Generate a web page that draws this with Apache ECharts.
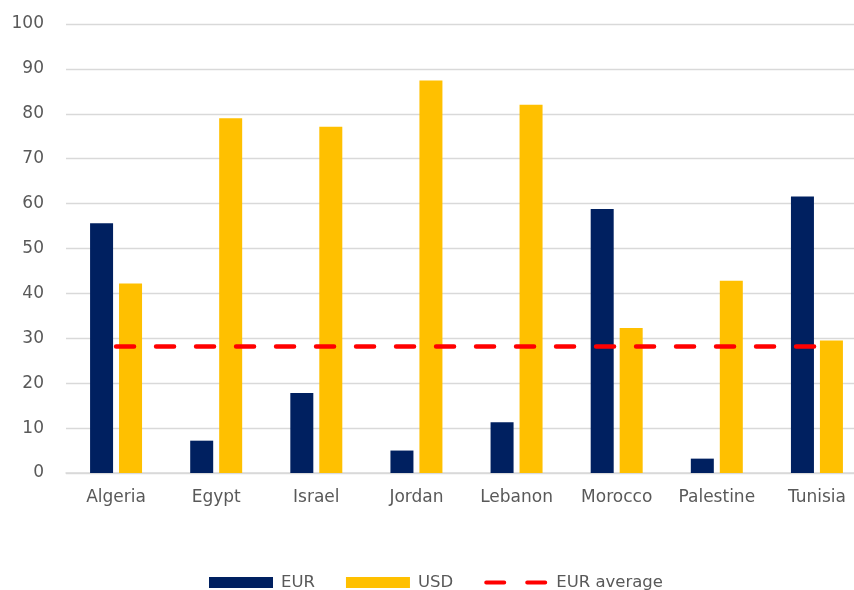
<!DOCTYPE html>
<html>
<head>
<meta charset="utf-8">
<script src="https://cdn.jsdelivr.net/npm/echarts@6/dist/echarts.min.js"></script>
<style>
html,body{margin:0;padding:0;background:#fff;overflow:hidden;}
#c{width:867px;height:590px;}
</style>
</head>
<body>
<div id="c"></div>
<script>
const categories = ['Algeria','Egypt','Israel','Jordan','Lebanon','Morocco','Palestine','Tunisia'];
const eurValues = [55.6, 7.2, 17.8, 5.0, 11.3, 58.8, 3.2, 61.6];
const usdValues = [42.2, 79.0, 77.1, 87.4, 82.0, 32.3, 42.8, 29.5];
const eurAverage = [28.2, 28.2, 28.2, 28.2, 28.2, 28.2, 28.2, 28.2];
const yTicks = [0, 10, 20, 30, 40, 50, 60, 70, 80, 90, 100];

const chart = echarts.init(document.getElementById('c'), null, {renderer:'canvas'});
const fontFam = '"DejaVu Sans", sans-serif';
const dashIcon = 'path://M0,0 L0.01,0 Z M0,11 L0.01,11 Z ' +
  'M2,3.5 L20,3.5 A2,2 0 0 1 20,7.5 L2,7.5 A2,2 0 0 1 2,3.5 Z ' +
  'M43,3.5 L61,3.5 A2,2 0 0 1 61,7.5 L43,7.5 A2,2 0 0 1 43,3.5 Z M64,0 L64.01,0 Z';
chart.setOption({
  animation: false,
  backgroundColor: '#fff',
  textStyle: {fontFamily: fontFam},
  grid: {left: 66, top: 24, right: 0, bottom: 117, containLabel: false},
  legend: {
    left: 209, top: 574, padding: 0,
    itemWidth: 64, itemHeight: 11, itemGap: 31,
    textStyle: {fontFamily: fontFam, fontSize: 16.5, color: '#595959', padding: [0,0,0,3]},
    data: [
      {name: 'EUR', icon: 'rect'},
      {name: 'USD', icon: 'rect'},
      {name: 'EUR average', icon: dashIcon}
    ]
  },
  xAxis: {
    type: 'category',
    data: categories,
    axisLine: {show: true, lineStyle: {color: '#d9d9d9', width: 1.5}},
    axisTick: {show: false},
    axisLabel: {fontFamily: fontFam, fontSize: 17, color: '#595959', margin: 16}
  },
  yAxis: {
    type: 'value',
    min: yTicks[0], max: yTicks[yTicks.length-1], interval: 10,
    axisLine: {show: false},
    axisTick: {show: false},
    splitLine: {lineStyle: {color: '#d9d9d9', width: 1.3}},
    axisLabel: {fontFamily: fontFam, fontSize: 17, color: '#595959', margin: 22}
  },
  series: [
    {name: 'EUR', type: 'bar', data: eurValues, itemStyle: {color: '#002060'}, barWidth: 23, barGap: '26%'},
    {name: 'USD', type: 'bar', data: usdValues, itemStyle: {color: '#FFC000'}, barWidth: 23},
    {name: 'EUR average', type: 'line', data: eurAverage, symbol: 'none', showSymbol: false,
     itemStyle: {color: '#FF0000'},
     lineStyle: {color: '#FF0000', width: 4.5, type: [18, 22], cap: 'round'}, z: 5}
  ]
});
</script>
</body>
</html>
